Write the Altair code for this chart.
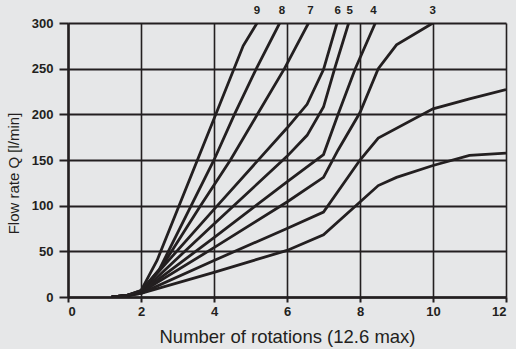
import altair as alt
import pandas as pd

# Curves (rotations, flow rate l/min)
c1_x = [1.2, 1.6, 2.0, 4.0, 6.0, 7.0, 8.0, 8.5, 9.0, 10.0, 11.0, 12.0]
c1_q = [0, 1.5, 4, 27, 51, 68, 104, 122, 131, 144, 155, 157.5]
c2_x = [1.2, 1.6, 2.0, 4.0, 6.0, 7.0, 8.0, 8.5, 10.0, 11.0, 12.0]
c2_q = [0, 1.5, 4, 40, 75, 93, 150, 174, 206, 217, 227]
c3_x = [1.2, 1.6, 2.0, 4.0, 6.0, 7.0, 7.4, 8.0, 8.5, 9.0, 10.0]
c3_q = [0, 1.5, 5, 54, 104, 131, 161, 202, 250, 276, 300]
c4_x = [1.2, 1.6, 2.0, 4.0, 6.0, 7.0, 7.4, 7.87, 8.42]
c4_q = [0, 1.5, 5, 65, 126, 156, 200, 250, 300]
c5_x = [1.2, 1.6, 2.0, 4.0, 6.0, 6.55, 7.0, 7.32, 7.69]
c5_q = [0, 1.5, 5, 80, 154, 177, 208, 252, 300]
c6_x = [1.2, 1.6, 2.0, 4.0, 6.0, 6.55, 7.0, 7.37]
c6_q = [0, 1.5, 6, 96, 185, 211, 249, 300]
c7_x = [1.2, 1.6, 2.0, 2.6, 3.63, 4.45, 5.19, 5.93, 6.59]
c7_q = [0, 1.5, 6, 35, 100, 150, 200, 250, 300]
c8_x = [1.2, 1.6, 2.0, 2.5, 4.0, 4.56, 5.16, 5.8]
c8_q = [0, 1.5, 7, 30, 150, 200, 250, 300]
c9_x = [1.2, 1.6, 2.0, 2.44, 4.05, 4.8, 5.18]
c9_q = [0, 1.5, 7, 40, 200, 275, 300]

curves = {
    "1": (c1_x, c1_q), "2": (c2_x, c2_q), "3": (c3_x, c3_q),
    "4": (c4_x, c4_q), "5": (c5_x, c5_q), "6": (c6_x, c6_q),
    "7": (c7_x, c7_q), "8": (c8_x, c8_q), "9": (c9_x, c9_q),
}

label_text = ["9", "8", "7", "6", "5", "4", "3"]
label_x = [5.18, 5.86, 6.64, 7.39, 7.72, 8.37, 9.99]
label_q = [300, 300, 300, 300, 300, 300, 300]

x_ticks = [0, 2, 4, 6, 8, 10, 12]
y_ticks = [0, 50, 100, 150, 200, 250, 300]

rows = []
for cid, (xs, qs) in curves.items():
    for i, (xv, qv) in enumerate(zip(xs, qs)):
        rows.append({"curve": cid, "i": i, "x": xv, "q": qv})
df = pd.DataFrame(rows)
lab = pd.DataFrame({"label": label_text, "x": label_x, "q": label_q})

INK = "#231f20"
FONT = "Liberation Sans"

xenc = alt.X(
    "x:Q",
    scale=alt.Scale(domain=[0, 12], nice=False, zero=False),
    axis=alt.Axis(
        values=x_ticks, title="Number of rotations (12.6 max)", grid=True,
        gridColor=INK, gridWidth=1.6, gridOpacity=1,
        domainColor=INK, domainWidth=2.5, tickColor=INK, tickSize=5, tickWidth=2,
        labelFont=FONT, labelFontWeight="bold", labelFontSize=13, labelColor=INK,
        labelPadding=3, titleFont=FONT, titleFontSize=18.5, titleFontWeight="normal",
        titleColor=INK, titleY=45, titleBaseline="alphabetic",
    ),
)
yenc = alt.Y(
    "q:Q",
    scale=alt.Scale(domain=[0, 300], nice=False),
    axis=alt.Axis(
        values=y_ticks, title="Flow rate Q [l/min]", grid=True,
        gridColor=INK, gridWidth=2, gridOpacity=1,
        domainColor=INK, domainWidth=2.5, tickColor=INK, tickSize=9, tickWidth=2,
        labelFont=FONT, labelFontWeight="bold", labelFontSize=13, labelColor=INK,
        labelPadding=6, titleFont=FONT, titleFontSize=15, titleFontWeight="normal",
        titleColor=INK, titleX=-50, titleY=150, titleBaseline="alphabetic",
        titleAngle=270, titleAlign="center",
    ),
)

lines = alt.Chart(df).mark_line(color=INK, strokeWidth=2.8, clip=True).encode(
    x=xenc, y=yenc, detail="curve:N", order="i:Q"
)

labels = alt.Chart(lab).mark_text(
    font=FONT, fontWeight="bold", fontSize=11.5, color=INK, dy=-12, baseline="middle"
).encode(x="x:Q", y="q:Q", text="label:N")

chart = alt.layer(lines, labels).properties(
    width=438, height=274,
    padding={"left": 68, "top": 23, "right": 10, "bottom": 52},
    autosize=alt.AutoSizeParams(type="none"),
    background="#e6e7e8",
).configure_view(strokeWidth=0)

chart.save("out.html", embed_options={"renderer": "svg", "actions": False})
